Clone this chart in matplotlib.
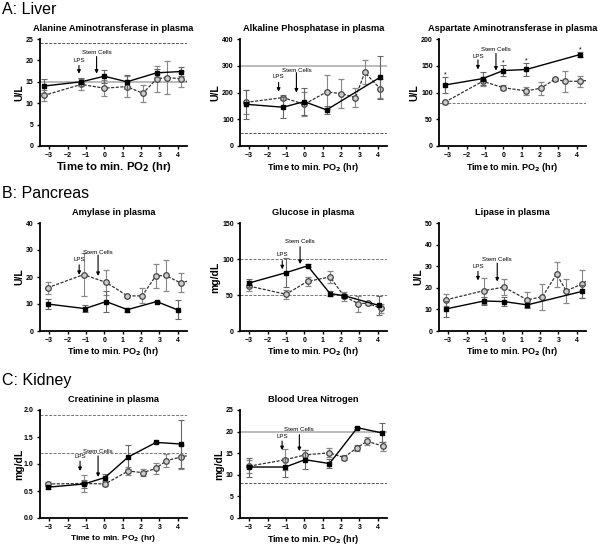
import matplotlib.pyplot as plt

plt.rcParams['font.family'] = ['Liberation Sans', 'DejaVu Sans']

# ---- Liver ----
alt_x1 = [-3.3, -1.25, 0, 1.23, 2.85, 4.18]
alt_y1 = [14.0, 15.0, 16.3, 15.0, 17.1, 17.4]
alt_e1 = [1.6, 1.0, 1.5, 1.6, 1.0, 1.0]
alt_x2 = [-3.3, -1.25, 0, 1.23, 2.1, 2.85, 3.4, 4.18, 4.9]
alt_y2 = [11.8, 14.4, 13.5, 13.9, 12.3, 15.7, 16.0, 15.7, 14.2]
alt_e2 = [1.3, 1.3, 1.9, 2.4, 2.0, 3.0, 3.8, 1.9, 0]

alp_x1 = [-3.18, -1.16, 0, 1.21, 4.13]
alp_y1 = [156, 145, 166, 135, 257]
alp_e1 = [55, 40, 50, 15, 80]
alp_x2 = [-3.18, -1.16, 0, 1.21, 2.0, 2.78, 3.29, 4.13]
alp_y2 = [163, 181, 156, 202, 196, 181, 275, 214]
alp_e2 = [45, 8, 45, 65, 55, 35, 45, 35]

ast_x1 = [-3.18, -1.12, 0, 1.25, 4.18]
ast_y1 = [114, 126, 141, 143, 171]
ast_e1 = [15, 12, 10, 12, 5]
ast_x2 = [-3.18, -1.12, 0, 1.25, 2.04, 2.82, 3.33, 4.18, 4.9]
ast_y2 = [82, 121, 109, 103, 108, 125, 121, 121, 124]
ast_e2 = [3, 8, 5, 8, 12, 3, 20, 10, 0]
ast_star_x = [-3.18, 0, 1.25, 4.18]

# ---- Pancreas ----
amy_x1 = [-3.09, -1.05, 0.1, 1.26, 2.85, 4.0]
amy_y1 = [10.0, 8.3, 10.9, 7.9, 10.9, 7.8]
amy_e1 = [1.8, 1.2, 4.0, 0.8, 0.3, 3.5]
amy_x2 = [-3.09, -1.13, 0.1, 1.26, 2.06, 2.8, 3.33, 4.15, 4.95]
amy_y2 = [16.0, 20.9, 18.0, 13.0, 13.0, 20.4, 20.6, 17.8, 19.2]
amy_e2 = [2.2, 8.0, 4.5, 0.5, 2.8, 4.3, 5.8, 3.5, 0]

glu_x1 = [-3.0, -1.0, 0.18, 1.4, 2.17, 4.04]
glu_y1 = [66.7, 81, 90.5, 52, 49, 35.7]
glu_e1 = [6, 20, 2, 3, 3, 13]
glu_x2 = [-3.0, -1.0, 0.18, 1.4, 2.17, 2.94, 3.44, 4.17]
glu_y2 = [62.4, 51, 69, 75, 48, 38, 38.6, 31.4]
glu_e2 = [7, 6, 6, 9, 6, 11, 2, 6]

lip_x1 = [-3.13, -1.05, 0.04, 1.31, 4.27]
lip_y1 = [10.2, 13.9, 13.6, 12.1, 18.3]
lip_e1 = [3.5, 2.0, 2.0, 1.5, 3.0]
lip_x2 = [-3.13, -1.05, 0.04, 1.31, 2.13, 2.9, 3.42, 4.27, 4.9]
lip_y2 = [14.4, 18.7, 20.3, 14.4, 15.9, 26.3, 18.6, 21.7, 25.2]
lip_e2 = [2.6, 6.0, 3.7, 3.5, 6.0, 5.8, 5.5, 6.5, 0]

# ---- Kidney ----
cre_x1 = [-3.09, -1.1, 0.04, 1.3, 2.82, 4.17]
cre_y1 = [0.57, 0.63, 0.75, 1.13, 1.40, 1.37]
cre_e1 = [0.03, 0.08, 0.07, 0.22, 0.01, 0.45]
cre_x2 = [-3.09, -1.1, 0.04, 1.3, 2.1, 2.82, 3.36, 4.17, 4.9]
cre_y2 = [0.63, 0.64, 0.63, 0.87, 0.84, 0.92, 1.06, 1.13, 1.18]
cre_e2 = [0.03, 0.15, 0.03, 0.07, 0.06, 0.1, 0.12, 0.22, 0]

bun_x1 = [-3.0, -1.03, 0.04, 1.37, 2.89, 4.22]
bun_y1 = [11.8, 11.8, 13.5, 12.6, 20.9, 19.7]
bun_e1 = [2.2, 2.2, 2.2, 1.0, 0.2, 2.2]
bun_x2 = [-3.0, -1.03, 0.04, 1.37, 2.14, 2.89, 3.42, 4.28]
bun_y2 = [12.0, 13.5, 14.6, 15.1, 14.0, 16.3, 17.8, 16.6]
bun_e2 = [1.5, 2.5, 1.2, 1.0, 0.6, 0.7, 0.9, 1.0]

xticks = [-3, -2, -1, 0, 1, 2, 3, 4]
xlab = 'Time to min. PO$_\\mathbf{2}$ (hr)'

# title, ylabel, ylim, yticks, ylabels, series, ref lines, arrows (x, tip, tail, text y), xlabel size
panels = [
    ('Alanine Aminotransferase in plasma', 'U/L', 25, [0, 5, 10, 15, 20, 25], None,
     (alt_x1, alt_y1, alt_e1, alt_x2, alt_y2, alt_e2),
     [(24, '#555555', 'dash'), (15, '#bbbbbb', 'solid')],
     (-1.38, 16.9, 18.8, 20.0), (-0.42, 16.9, 20.9, 21.8), 8.2),
    ('Alkaline Phosphatase in plasma', 'U/L', 400, [0, 100, 200, 300, 400], None,
     (alp_x1, alp_y1, alp_e1, alp_x2, alp_y2, alp_e2),
     [(300, '#bbbbbb', 'solid'), (50, '#555555', 'dash')],
     (-1.4, 203, 238, 259), (-0.43, 200, 274, 284), 6.5),
    ('Aspartate Aminotransferase in plasma', 'U/L', 200, [0, 50, 100, 150, 200], None,
     (ast_x1, ast_y1, ast_e1, ast_x2, ast_y2, ast_e2),
     [(80, '#777777', 'dash')],
     (-1.38, 143, 161, 168), (-0.4, 141, 173, 181), 6.5),
    ('Amylase in plasma', 'U/L', 40, [0, 10, 20, 30, 40], None,
     (amy_x1, amy_y1, amy_e1, amy_x2, amy_y2, amy_e2),
     [],
     (-1.37, 20.8, 24.5, 26.4), (-0.34, 20.4, 28.1, 29.1), 6.5),
    ('Glucose in plasma', 'mg/dL', 150, [0, 50, 100, 150], None,
     (glu_x1, glu_y1, glu_e1, glu_x2, glu_y2, glu_e2),
     [(100, '#777777', 'dash'), (50, '#777777', 'dash')],
     (-1.2, 85.7, 97.6, 106), (-0.23, 93, 117, 124), 6.5),
    ('Lipase in plasma', 'U/L', 50, [0, 10, 20, 30, 40, 50], None,
     (lip_x1, lip_y1, lip_e1, lip_x2, lip_y2, lip_e2),
     [],
     (-1.38, 23.4, 27.6, 29.9), (-0.33, 22.9, 31.4, 33.0), 6.5),
    ('Creatinine in plasma', 'mg/dL', 2.0, [0, 0.5, 1.0, 1.5, 2.0],
     ['0.0', '0.5', '1.0', '1.5', '2.0'],
     (cre_x1, cre_y1, cre_e1, cre_x2, cre_y2, cre_e2),
     [(1.9, '#777777', 'dash'), (1.2, '#777777', 'dash')],
     (-1.32, 0.87, 1.05, 1.13), (-0.34, 0.76, 1.15, 1.24), 6.0),
    ('Blood Urea Nitrogen', 'mg/dL', 25, [0, 5, 10, 15, 20, 25], None,
     (bun_x1, bun_y1, bun_e1, bun_x2, bun_y2, bun_e2),
     [(20, '#bbbbbb', 'solid'), (8, '#555555', 'dash')],
     (-1.21, 15.7, 17.8, 18.8), (-0.27, 15.5, 19.3, 20.6), 6.5),
]

W, H = 600, 545
fig = plt.figure(figsize=(6, 5.45), dpi=100)
cols = [40, 240, 439]
rows = [(39, 146), (223, 331), (410, 518)]
width = 147

for i, (title, ylab, ymax, yt, ytl, series, refs, lps, stem, xls) in enumerate(panels):
    r, c = divmod(i, 3)
    top, bot = rows[r]
    h = bot - top
    ax = fig.add_axes([cols[c] / W, 1 - bot / H, width / W, h / H])
    x1, y1, e1, x2, y2, e2 = series

    for val, col, sty in refs:
        ls = (0, (3, 1.5)) if sty == 'dash' else '-'
        lw = 0.7 if sty == 'dash' else 1.4
        ax.axhline(val, color=col, ls=ls, lw=lw, zorder=1)

    ax.errorbar(x2, y2, yerr=e2, fmt='o', ls=(0, (2.5, 1.2)), color='#333333', lw=0.9,
                ecolor='#888888', elinewidth=0.8, capsize=2, capthick=0.8,
                ms=4, mfc='#cccccc', mec='#444444', mew=0.9, zorder=3)
    ax.errorbar(x1, y1, yerr=e1, fmt='s', ls='-', color='black', lw=1.0,
                ecolor='#666666', elinewidth=0.8, capsize=2, capthick=0.8,
                ms=3, mfc='black', mec='black', zorder=4)

    # arrows
    for (ax_x, tip, tail, ty), lab in [(lps, 'LPS'), (stem, 'Stem Cells')]:
        ax.annotate('', xy=(ax_x, tip), xytext=(ax_x, tail),
                    arrowprops=dict(arrowstyle='-|>', color='black', lw=0.8,
                                    mutation_scale=5, shrinkA=0, shrinkB=0), zorder=5)
        ax.text(ax_x, ty, lab, fontsize=4.4, ha='center', va='center', zorder=5)

    if i == 2:
        for sx in ast_star_x:
            j = x1.index(sx)
            ax.text(sx, y1[j] + e1[j] + 4, '*', fontsize=5, ha='center', va='center')

    ax.set_xlim(-3.5, 4.5)
    ax.set_ylim(0, ymax)
    ax.set_xticks(xticks)
    ax.set_yticks(yt)
    if ytl:
        ax.set_yticklabels(ytl)
    for s in ['top', 'right']:
        ax.spines[s].set_visible(False)
    for s in ['left', 'bottom']:
        ax.spines[s].set_linewidth(1.3)
    ax.tick_params(axis='both', labelsize=5, width=1.0, length=2.5, pad=2)
    for lb in ax.get_xticklabels() + ax.get_yticklabels():
        lb.set_fontweight('bold')
    ax.text(0.5, 1 + 10.5 / h, title, transform=ax.transAxes, fontsize=6.7,
            fontweight='bold', ha='center', va='center')
    ax.set_ylabel(ylab, fontsize=7.5, fontweight='bold', va='center')
    yoff = 25 if ymax >= 100 else 21
    ax.yaxis.set_label_coords(-yoff / width, 0.5)
    ax.set_xlabel(xlab, fontsize=xls, fontweight='bold', va='center')
    ax.xaxis.set_label_coords(0.5, -21 / h)

fig.text(2 / W, 1 - 9 / H, 'A: Liver', fontsize=11.5, va='center', ha='left')
fig.text(2 / W, 1 - 193 / H, 'B: Pancreas', fontsize=11.5, va='center', ha='left')
fig.text(2 / W, 1 - 381 / H, 'C: Kidney', fontsize=11.5, va='center', ha='left')

fig.savefig('out.png', dpi=100)
